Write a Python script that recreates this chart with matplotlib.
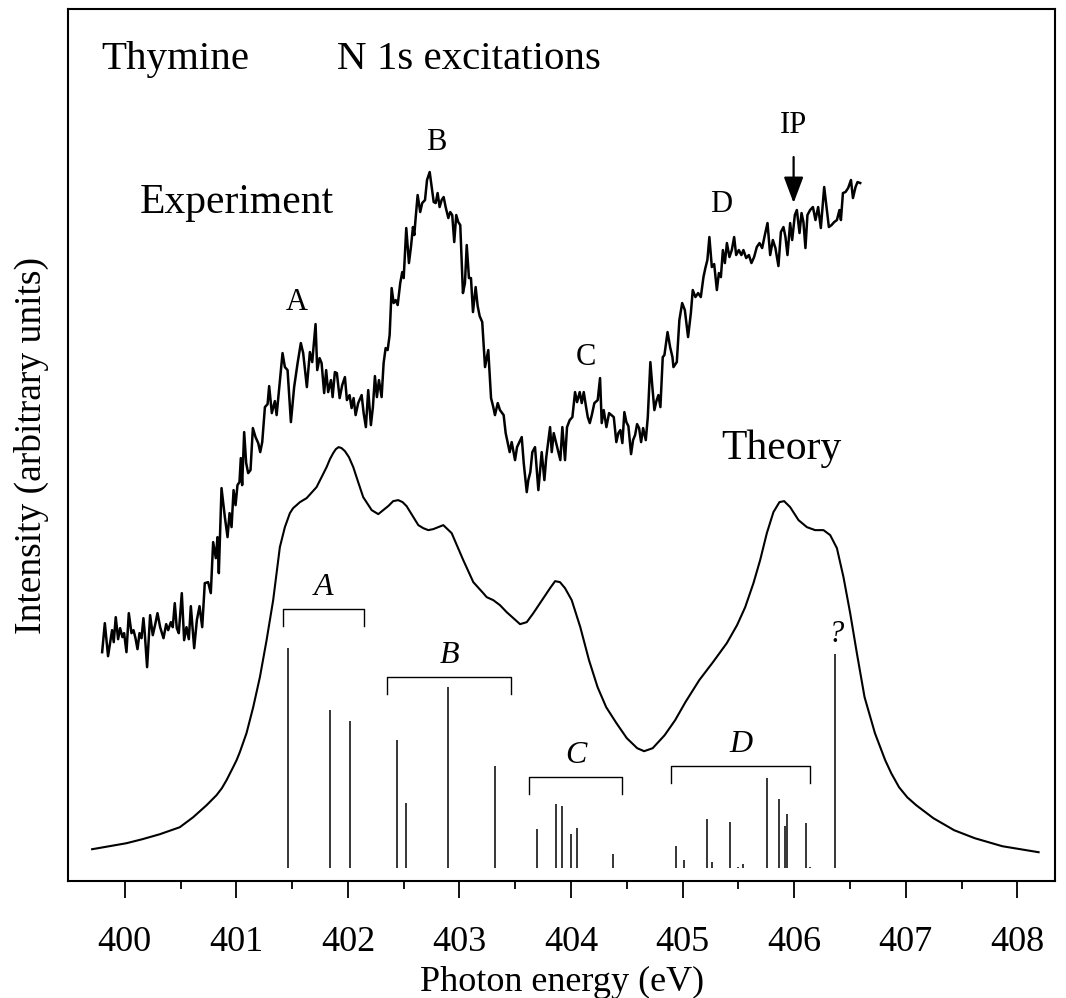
import matplotlib
matplotlib.use("Agg")
import matplotlib.pyplot as plt
from matplotlib.ticker import MultipleLocator, FixedLocator

plt.rcParams["font.family"] = ["Liberation Serif", "DejaVu Serif"]

# experimental N 1s spectrum (photon energy in eV, arbitrary intensity)
exp_energy = [
    399.797, 399.821, 399.850, 399.886, 399.901, 399.919, 399.940, 399.958, 399.979, 399.994,
    400.015, 400.036, 400.060, 400.078, 400.096, 400.114, 400.132, 400.150, 400.167, 400.179,
    400.200, 400.227, 400.251, 400.275, 400.293, 400.317, 400.347, 400.371, 400.389, 400.413,
    400.430, 400.448, 400.466, 400.484, 400.511, 400.532, 400.553, 400.574, 400.592, 400.622,
    400.646, 400.670, 400.694, 400.717, 400.747, 400.771, 400.792, 400.816, 400.831, 400.843,
    400.867, 400.897, 400.921, 400.939, 400.957, 400.975, 400.993, 401.010, 401.028, 401.040,
    401.052, 401.070, 401.088, 401.106, 401.127, 401.148, 401.172, 401.196, 401.214, 401.232,
    401.256, 401.280, 401.294, 401.318, 401.345, 401.361, 401.390, 401.414,
    401.435, 401.459, 401.489, 401.518, 401.549, 401.578, 401.599, 401.632, 401.659, 401.680,
    401.710, 401.725, 401.746, 401.764, 401.787, 401.805, 401.823, 401.848, 401.863, 401.883,
    401.901, 401.926, 401.949, 401.973, 401.991, 402.015, 402.033, 402.051, 402.069, 402.092,
    402.123, 402.141, 402.161, 402.182, 402.206, 402.224, 402.242, 402.260, 402.278, 402.302,
    402.320, 402.338, 402.356, 402.374, 402.392, 402.410, 402.428, 402.446, 402.469, 402.487,
    402.500, 402.523, 402.547, 402.565, 402.583, 402.595, 402.607, 402.625, 402.648, 402.666,
    402.691, 402.709, 402.733, 402.751, 402.769, 402.787, 402.804, 402.822, 402.840, 402.858,
    402.876, 402.900, 402.917, 402.935, 402.953, 402.971, 402.989, 403.007, 403.031, 403.049,
    403.065, 403.085, 403.103, 403.121, 403.145, 403.163, 403.181, 403.204, 403.229, 403.258,
    403.283, 403.303, 403.318, 403.343, 403.363, 403.396, 403.414, 403.450, 403.468, 403.498,
    403.516, 403.558, 403.576, 403.603, 403.617, 403.635, 403.653, 403.677, 403.707, 403.737,
    403.761, 403.778, 403.812, 403.827, 403.845, 403.886, 403.904, 403.922, 403.946, 403.964,
    403.988, 404.012, 404.036, 404.054, 404.078, 404.096, 404.114, 404.132, 404.150, 404.168,
    404.186, 404.209, 404.239, 404.260, 404.275, 404.293, 404.317, 404.341, 404.362, 404.383,
    404.406, 404.424, 404.442, 404.460, 404.478, 404.496, 404.514, 404.538, 404.556, 404.574,
    404.592, 404.610, 404.628, 404.646, 404.670, 404.688, 404.711, 404.729, 404.747, 404.765,
    404.783, 404.801, 404.822, 404.837, 404.865, 404.888, 404.909, 404.918, 404.948, 404.971,
    404.996, 405.020, 405.049, 405.074, 405.091, 405.115, 405.139, 405.163, 405.187, 405.204,
    405.222, 405.240, 405.262, 405.283, 405.307, 405.325, 405.343, 405.361, 405.379, 405.397,
    405.420, 405.441, 405.462, 405.480, 405.504, 405.527, 405.545, 405.570, 405.594, 405.617,
    405.641, 405.665, 405.689, 405.713, 405.737, 405.761, 405.785, 405.809, 405.832, 405.859,
    405.881, 405.904, 405.922, 405.940, 405.964, 405.982, 406.006, 406.024, 406.048, 406.066,
    406.083, 406.101, 406.119, 406.143, 406.168, 406.191, 406.215, 406.239, 406.269, 406.293,
    406.311, 406.335, 406.359, 406.383, 406.406, 406.419, 406.437, 406.460, 406.484, 406.509,
    406.527, 406.550, 406.568, 406.592,
]
exp_intensity = [
    229, 258, 225, 251, 239, 264, 242, 253, 244, 248,
    229, 268, 248, 251, 243, 232, 248, 243, 263, 248,
    214, 266, 246, 258, 268, 254, 243, 257, 251, 259,
    254, 278, 253, 248, 288, 241, 254, 242, 275, 233,
    261, 275, 254, 298, 299, 288, 339, 323, 344, 308,
    393, 364, 344, 368, 354, 391, 376, 396, 399, 423,
    396, 449, 418, 408, 411, 453, 444, 438, 429, 439,
    474, 477, 495, 468, 480, 466, 500, 528,
    514, 511, 459, 494, 518, 538, 528, 494, 529, 519,
    557, 511, 523, 518, 488, 511, 489, 501, 484, 509,
    508, 483, 496, 504, 481, 486, 473, 483, 466, 478,
    486, 468, 454, 491, 456, 474, 505, 484, 501, 484,
    518, 533, 531, 546, 593, 578, 581, 576, 598, 609,
    603, 653, 618, 634, 654, 646, 663, 686, 669, 678,
    681, 701, 709, 694, 679, 678, 688, 674, 681, 684,
    674, 663, 669, 666, 639, 666, 659, 656, 588, 598,
    636, 603, 603, 569, 594, 575, 565, 559, 514, 531,
    483, 474, 466, 478, 471, 466, 448, 429, 439, 421,
    434, 444, 418, 389, 401, 409, 429, 434, 391, 429,
    401, 424, 454, 429, 448, 429, 421, 454, 421, 454,
    461, 464, 489, 479, 489, 478, 489, 476, 464, 458,
    466, 478, 481, 503, 458, 471, 454, 468, 466, 464,
    439, 448, 451, 438, 469, 459, 455, 427, 441, 446,
    457, 453, 439, 453, 441, 464, 519, 494, 471, 480,
    486, 474, 524, 526, 549, 534, 524, 514, 519, 561,
    578, 571, 544, 568, 591, 584, 588, 584, 604, 613,
    621, 644, 614, 617, 591, 608, 604, 631, 618, 638,
    624, 631, 644, 626, 631, 626, 631, 623, 626, 618,
    624, 634, 638, 633, 646, 658, 626, 641, 633, 615,
    649, 654, 644, 626, 658, 641, 666, 671, 648, 668,
    659, 633, 666, 671, 674, 661, 674, 653, 694, 671,
    654, 656, 659, 661, 671, 661, 688, 689, 693, 701,
    683, 694, 699, 698,
]

# calculated (broadened) spectrum
theory_energy = [
    399.707, 400.015, 400.157, 400.314, 400.493, 400.613, 400.733, 400.822, 400.870, 400.912,
    400.971, 401.002, 401.031, 401.091, 401.151, 401.211, 401.271, 401.330, 401.390, 401.435,
    401.480, 401.509, 401.540, 401.570, 401.630, 401.719, 401.809, 401.839, 401.868, 401.892,
    401.917, 401.943, 401.973, 402.009, 402.048, 402.092, 402.137, 402.213, 402.272, 402.361,
    402.406, 402.451, 402.490, 402.526, 402.631, 402.675, 402.720, 402.765, 402.855, 402.930,
    403.034, 403.124, 403.213, 403.244, 403.303, 403.363, 403.423, 403.483, 403.543, 403.603,
    403.662, 403.782, 403.812, 403.857, 403.901, 403.946, 404.006, 404.083, 404.161, 404.238,
    404.315, 404.407, 404.500, 404.593, 404.655, 404.732, 404.839, 404.933, 405.025, 405.149,
    405.272, 405.396, 405.488, 405.561, 405.635, 405.695, 405.755, 405.814, 405.868, 405.910,
    405.964, 406.039, 406.114, 406.188, 406.263, 406.323, 406.383, 406.442, 406.502, 406.562,
    406.631, 406.724, 406.816, 406.870, 406.940, 407.013, 407.094, 407.248, 407.434, 407.619,
    407.866, 408.191,
]
theory_intensity = [
    32, 38, 42, 47, 54, 64, 76, 86, 93, 101,
    114, 121, 129, 148, 174, 204, 241, 281, 334, 354,
    368, 373, 376, 379, 383, 394, 414, 422, 428, 432,
    434, 433, 430, 424, 414, 399, 384, 371, 367, 375,
    380, 381, 379, 375, 356, 353, 351, 352, 356, 348,
    321, 299, 288, 284, 281, 276, 269, 263, 257, 259,
    268, 288, 293, 300, 299, 293, 281, 254, 221, 194,
    174, 158, 143, 133, 130, 133, 146, 161, 179, 201,
    219, 238, 256, 274, 298, 321, 348, 369, 379, 380,
    374, 361, 354, 351, 351, 346, 333, 304, 268, 228,
    184, 148, 121, 108, 94, 84, 76, 63, 51, 43,
    35, 29,
]

# individual transitions (stick spectrum)
stick_base = 13
stick_energy = [
    401.465, 401.839, 402.018, 402.437, 402.517, 402.897, 403.318, 403.691, 403.867, 403.923,
    403.996, 404.052, 404.377, 404.944, 405.010, 405.220, 405.260, 405.423, 405.498, 405.543,
    405.760, 405.862, 405.917, 405.936, 406.106, 406.146, 406.369,
]
stick_top = [
    233, 171, 160, 141, 78, 194, 115, 52, 77, 75,
    47, 53, 27, 35, 21, 62, 19, 59, 14, 17,
    103, 82, 55, 67, 58, 14, 227,
]

# groups of transitions assigned to features A-D
group_labels = ["A", "B", "C", "D"]
group_start = [401.420, 402.347, 403.626, 404.892]
group_end = [402.146, 403.465, 404.460, 406.146]
group_level = [272, 204, 104, 115]

# experimental feature labels
feature_labels = ["A", "B", "C", "D"]
feature_energy = [401.545, 402.789, 404.135, 405.342]
feature_level = [571, 731, 516, 669]

ip_energy = 405.995

fig = plt.figure(figsize=(10.66, 9.98), dpi=100)
ax = fig.add_axes([0.064, 0.117, 0.926, 0.874])

ax.plot(exp_energy, exp_intensity, color="black", lw=1.8)
ax.plot(theory_energy, theory_intensity, color="black", lw=1.5)
ax.vlines(stick_energy, stick_base, stick_top, color="black", lw=1.1)

leg = 17
for lab, x0, x1, y in zip(group_labels, group_start, group_end, group_level):
    ax.plot([x0, x0, x1, x1], [y - leg, y, y, y - leg], color="black", lw=1.0)
    ax.text((x0 + x1) / 2, y + 14, lab, fontsize=23, style="italic",
            ha="center", va="baseline")
ax.text(406.377, 239, "?", fontsize=22, style="italic", ha="center", va="baseline")

for lab, x, y in zip(feature_labels, feature_energy, feature_level):
    ax.text(x, y, lab, fontsize=22, ha="center", va="baseline")

ax.annotate("", xy=(ip_energy, 678), xytext=(ip_energy, 724),
            arrowprops=dict(arrowstyle="-|>,head_length=0.8,head_width=0.3",
                            color="black", lw=1.6, mutation_scale=20,
                            shrinkA=0, shrinkB=0))
ax.text(ip_energy, 748, "IP", fontsize=22, ha="center", va="baseline")

ax.text(400.135, 668, "Experiment", fontsize=30, ha="left", va="baseline")
ax.text(405.342, 422, "Theory", fontsize=30, ha="left", va="baseline")
ax.text(399.794, 812, "Thymine", fontsize=29.5, ha="left", va="baseline")
ax.text(401.901, 812, "N 1s excitations", fontsize=29.5, ha="left", va="baseline")

ax.set_xlim(399.493, 408.341)
ax.set_ylim(0, 872)
ax.xaxis.set_major_locator(MultipleLocator(1))
ax.xaxis.set_minor_locator(FixedLocator([400.5 + i for i in range(8)]))
ax.set_yticks([])
ax.tick_params(axis="x", which="major", direction="out", length=12.5, width=1.3,
               labelsize=26, pad=20)
ax.tick_params(axis="x", which="minor", direction="out", length=5.5, width=1.3)
for sp in ax.spines.values():
    sp.set_linewidth(1.5)

ax.set_xlabel("Photon energy (eV)", fontsize=26, labelpad=5)
ax.set_ylabel("Intensity (arbitrary units)", fontsize=27, labelpad=14)

fig.savefig("out.png", dpi=100)
